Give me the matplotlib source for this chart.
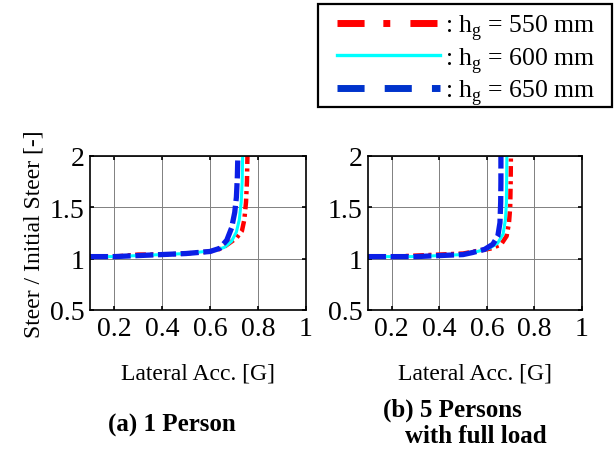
import numpy as np
import matplotlib.pyplot as plt
from matplotlib.lines import Line2D
from matplotlib.patches import Rectangle

plt.rcParams["font.family"] = ["Liberation Serif", "DejaVu Serif"]
plt.rcParams["mathtext.fontset"] = "custom"
plt.rcParams["mathtext.rm"] = "Liberation Serif"

# --- data ---
# (a) 1 Person
a_550_x = [0.10, 0.20, 0.30, 0.40, 0.50, 0.60, 0.65, 0.68, 0.71, 0.733, 0.743, 0.750, 0.754, 0.756]
a_550_y = [1.02, 1.02, 1.04, 1.04, 1.05, 1.07, 1.10, 1.15, 1.20, 1.27, 1.38, 1.55, 1.75, 2.00]
a_600_x = [0.10, 0.20, 0.30, 0.40, 0.50, 0.58, 0.62, 0.66, 0.69, 0.71, 0.722, 0.730, 0.734, 0.736]
a_600_y = [1.02, 1.02, 1.03, 1.04, 1.05, 1.07, 1.08, 1.11, 1.17, 1.26, 1.38, 1.55, 1.75, 2.00]
a_650_x = [0.10, 0.20, 0.30, 0.40, 0.50, 0.60, 0.64, 0.67, 0.69, 0.703, 0.710, 0.714, 0.716]
a_650_y = [1.02, 1.02, 1.03, 1.04, 1.05, 1.07, 1.10, 1.18, 1.30, 1.45, 1.60, 1.80, 2.00]

# (b) 5 Persons with full load
b_550_x = [0.10, 0.20, 0.30, 0.40, 0.50, 0.57, 0.62, 0.66, 0.683, 0.693, 0.698, 0.700, 0.701]
b_550_y = [1.02, 1.02, 1.03, 1.04, 1.05, 1.08, 1.10, 1.14, 1.22, 1.35, 1.50, 1.75, 2.00]
b_600_x = [0.10, 0.20, 0.30, 0.40, 0.50, 0.56, 0.61, 0.645, 0.668, 0.678, 0.682, 0.684]
b_600_y = [1.02, 1.02, 1.02, 1.03, 1.04, 1.07, 1.10, 1.15, 1.24, 1.38, 1.55, 2.00]
b_650_x = [0.10, 0.20, 0.30, 0.40, 0.50, 0.54, 0.59, 0.625, 0.646, 0.655, 0.658, 0.659, 0.659]
b_650_y = [1.02, 1.02, 1.02, 1.03, 1.04, 1.06, 1.09, 1.14, 1.22, 1.35, 1.55, 1.75, 2.00]

labels = [r": h$_{\rm g}$ = 550 mm", r": h$_{\rm g}$ = 600 mm", r": h$_{\rm g}$ = 650 mm"]
xticks = [0.2, 0.4, 0.6, 0.8, 1.0]
xticklabels = ["0.2", "0.4", "0.6", "0.8", "1"]
yticks = [0.5, 1.0, 1.5, 2.0]
yticklabels = ["0.5", "1", "1.5", "2"]

RED = "#ff0000"
CYAN = "#00ffff"
BLUE = "#0a1ee6"

fig = plt.figure(figsize=(6.14, 4.52), dpi=100)
ax_a = fig.add_axes([90 / 614, 1 - 311 / 452, 216 / 614, 154 / 452])
ax_b = fig.add_axes([368 / 614, 1 - 311 / 452, 214 / 614, 154 / 452])

panels = [
    (ax_a, (a_550_x, a_550_y), (a_600_x, a_600_y), (a_650_x, a_650_y)),
    (ax_b, (b_550_x, b_550_y), (b_600_x, b_600_y), (b_650_x, b_650_y)),
]

for ax, s550, s600, s650 in panels:
    l1, = ax.plot(s550[0], s550[1], color=RED, lw=3.2, solid_capstyle="butt")
    l1.set_dashes([2.4, 1.0, 0.7, 1.0])
    ax.plot(s600[0], s600[1], color=CYAN, lw=2.2)
    l3, = ax.plot(s650[0], s650[1], color=BLUE, lw=3.8)
    l3.set_dashes([3.4, 0.9])

    ax.set_xlim(0.1, 1.0)
    ax.set_ylim(0.5, 2.0)
    ax.set_xticks(xticks)
    ax.set_xticklabels(xticklabels)
    ax.set_yticks(yticks)
    ax.set_yticklabels(yticklabels)
    ax.tick_params(direction="in", length=3, width=1.2, top=True, right=True,
                   labelsize=20, pad=4)
    ax.grid(True, color="#808080", linewidth=0.7)
    for sp in ax.spines.values():
        sp.set_linewidth(1.2)
    ax.set_xlabel("Lateral Acc. [G]", fontsize=17, labelpad=16)

ax_a.set_ylabel("Steer / Initial Steer [-]", fontsize=17, labelpad=4)

# legend with its own (thicker) handles, framed by a separate box
h1 = Line2D([], [], color=RED, lw=5.0, dashes=[3.9, 2.7, 1.0, 2.9])
h2 = Line2D([], [], color=CYAN, lw=2.4)
h3 = Line2D([], [], color="#0033cc", lw=5.0, dashes=[3.9, 2.9])
leg = fig.legend([h1, h2, h3], labels, loc="upper left",
                 bbox_to_anchor=(337 / 614, 1 - 13 / 452), borderaxespad=0,
                 fontsize=18.5, handlelength=4.0, handletextpad=0.2,
                 labelspacing=0.1, borderpad=0, frameon=False)
fig.patches.append(Rectangle((318 / 614, 1 - 108 / 452), 294 / 614, 103 / 452,
                             transform=fig.transFigure, fill=False,
                             edgecolor="black", linewidth=1.6, zorder=4))

fig.text(172 / 614, 1 - 425 / 452, "(a) 1 Person", fontsize=18, fontweight="bold",
         ha="center", va="center")
fig.text(383 / 614, 1 - 410 / 452, "(b) 5 Persons", fontsize=18, fontweight="bold",
         ha="left", va="center")
fig.text(405 / 614, 1 - 437 / 452, "with full load", fontsize=18, fontweight="bold",
         ha="left", va="center")

fig.savefig("out.png", dpi=100)
